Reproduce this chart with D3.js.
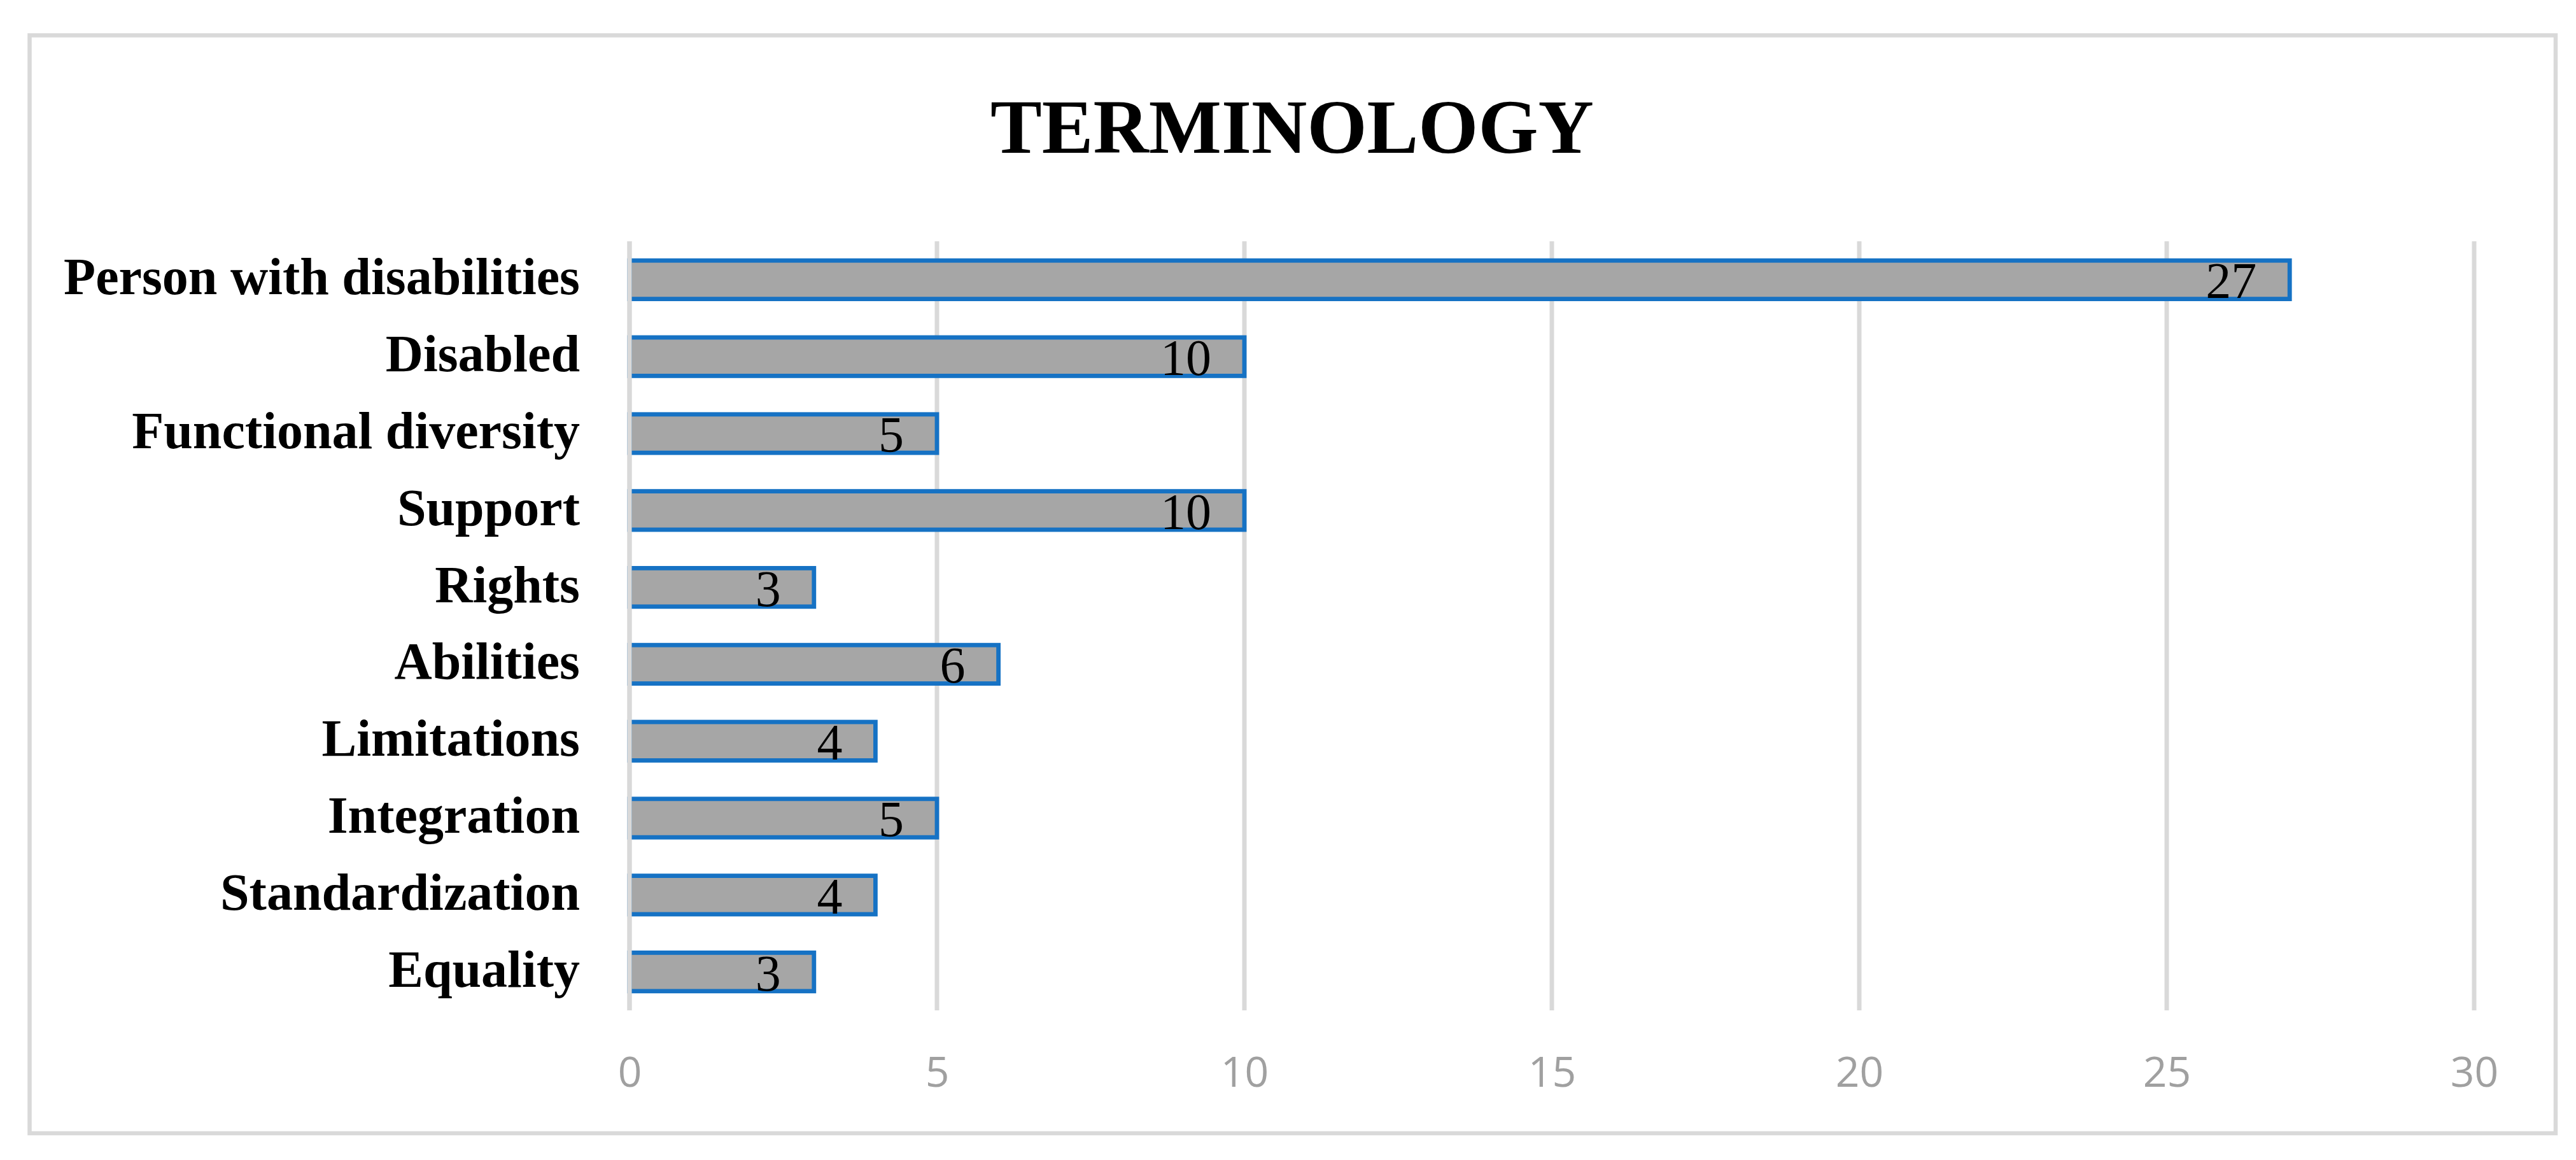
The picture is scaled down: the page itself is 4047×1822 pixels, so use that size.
<!DOCTYPE html>
<html>
<head>
<meta charset="utf-8">
<script src="https://cdn.jsdelivr.net/npm/d3@7"></script>
<style>
  html, body { margin: 0; padding: 0; background: #fff; }
  svg { display: block; }
</style>
</head>
<body>
<svg id="chart" width="4047" height="1822"></svg>
<script>
const title = "TERMINOLOGY";
const categories = ["Person with disabilities", "Disabled", "Functional diversity", "Support", "Rights", "Abilities", "Limitations", "Integration", "Standardization", "Equality"];
const values = [27, 10, 5, 10, 3, 6, 4, 5, 4, 3];
const xTicks = [0, 5, 10, 15, 20, 25, 30];

const svg = d3.select("#chart");
const W = 4047, H = 1822;

svg.append("rect").attr("width", W).attr("height", H).attr("fill", "#fff");

// outer frame
svg.append("rect")
  .attr("x", 46.5).attr("y", 55.5)
  .attr("width", 4015 - 46.5).attr("height", 1780 - 55.5)
  .attr("fill", "none").attr("stroke", "#d9d9d9").attr("stroke-width", 6.5);

// title
svg.append("text")
  .attr("x", 2030).attr("y", 240)
  .attr("text-anchor", "middle")
  .attr("font-family", "'Liberation Serif', 'Times New Roman', serif")
  .attr("font-weight", "bold")
  .attr("font-size", 121)
  .attr("fill", "#000")
  .text(title);

const x = d3.scaleLinear().domain([0, 30]).range([989, 3887]);
const y = d3.scaleBand().domain(categories).range([379, 1587]).paddingInner(0.5).paddingOuter(0.25);

// gridlines
svg.append("g").selectAll("line").data(xTicks).join("line")
  .attr("x1", d => x(d)).attr("x2", d => x(d))
  .attr("y1", 379).attr("y2", 1587)
  .attr("stroke", "#d9d9d9").attr("stroke-width", 7);

// bars
svg.append("g").selectAll("rect").data(categories).join("rect")
  .attr("x", x(0))
  .attr("y", d => y(d))
  .attr("width", (d, i) => x(values[i]) - x(0))
  .attr("height", y.bandwidth())
  .attr("fill", "#a6a6a6")
  .attr("stroke", "#1672c4")
  .attr("stroke-width", 6.8);

// zero gridline on top of bar left edges
svg.append("line")
  .attr("x1", x(0)).attr("x2", x(0))
  .attr("y1", 379).attr("y2", 1587)
  .attr("stroke", "#d9d9d9").attr("stroke-width", 7);

// data labels
svg.append("g").selectAll("text").data(categories).join("text")
  .attr("x", (d, i) => x(values[i]) - 52)
  .attr("y", d => y(d) + y.bandwidth() / 2 + 29)
  .attr("text-anchor", "end")
  .attr("font-family", "'Liberation Serif', 'Times New Roman', serif")
  .attr("font-size", 80)
  .attr("fill", "#000")
  .text((d, i) => values[i]);

// category labels
svg.append("g").selectAll("text").data(categories).join("text")
  .attr("x", 911)
  .attr("y", d => y(d) + y.bandwidth() / 2 + 23)
  .attr("text-anchor", "end")
  .attr("font-family", "'Liberation Serif', 'Times New Roman', serif")
  .attr("font-weight", "bold")
  .attr("font-size", 82)
  .attr("fill", "#000")
  .text(d => d);

// x axis tick labels
const xAxis = d3.axisBottom(x).tickValues(xTicks).tickSize(0).tickPadding(0).tickFormat(d3.format("d"));
const gx = svg.append("g").attr("transform", "translate(0,1587)").call(xAxis);
gx.select(".domain").remove();
gx.selectAll("text")
  .attr("dy", null)
  .attr("y", 120)
  .attr("font-family", "'Open Sans', 'Liberation Sans', sans-serif")
  .attr("font-size", 66)
  .attr("fill", "#a0a0a0");
</script>
</body>
</html>
